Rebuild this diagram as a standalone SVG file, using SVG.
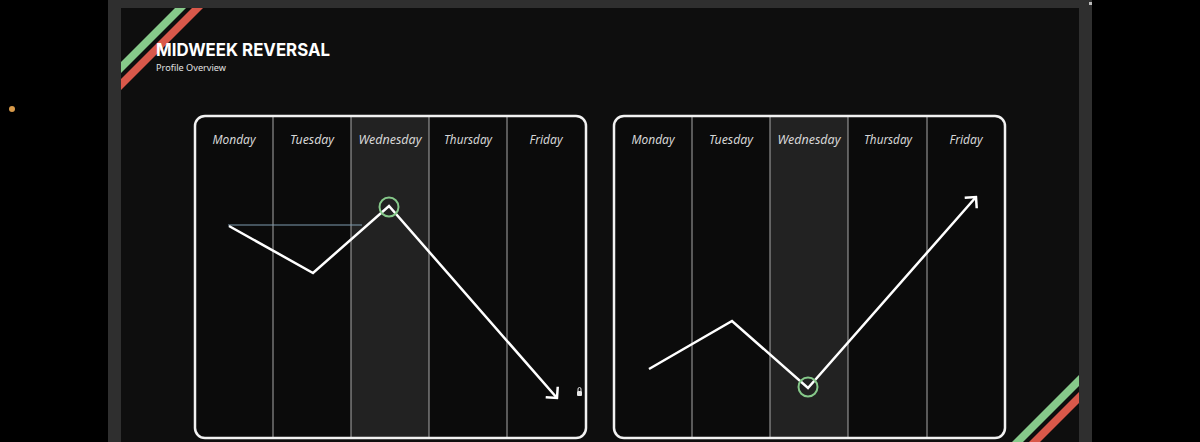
<svg xmlns="http://www.w3.org/2000/svg" width="1200" height="442" viewBox="0 0 1200 442">
  <defs>
    <style>
      .day { font-family: "Noto Sans", "Liberation Sans", sans-serif; font-style: italic; font-size: 12px; fill: #d6d6d6; text-anchor: middle; }
      .col { fill: #0b0b0b; }
      .wed { fill: #222222; }
      .div { stroke: #a8a8a8; stroke-width: 1; }
      .frame { fill: none; stroke: #f2f2f2; stroke-width: 2.5; }
      .line { fill: none; stroke: #ffffff; stroke-width: 2.5; stroke-linejoin: miter; }
      .ring { fill: none; stroke: #86c98a; stroke-width: 2; }
    </style>
    <marker id="arrow" markerUnits="userSpaceOnUse" viewBox="-12 -10 14 20" markerWidth="14" markerHeight="20" refX="0" refY="0" orient="auto">
      <path d="M-8,-8 L0,0 L-8,8" fill="none" stroke="#ffffff" stroke-width="2.5"/>
    </marker>
  </defs>

  <!-- backdrop -->
  <rect x="0" y="0" width="1200" height="442" fill="#000000"/>
  <rect x="108" y="0" width="984" height="442" fill="#2f2f2f"/>
  <rect x="121" y="8" width="958" height="434" fill="#0e0e0e"/>
  <circle cx="12" cy="109" r="3" fill="#d89a4a"/>
  <rect x="1089" y="2" width="3" height="3" fill="#bbbbbb"/>

  <!-- decorative stripes -->
  <g id="stripes">
    <polygon points="121,62 175,8 186,8 121,73" fill="#86c98a"/>
    <polygon points="121,79 192,8 203,8 121,90" fill="#d9584a"/>
    <polygon points="1079,375 1079,386 1023,442 1012,442" fill="#86c98a"/>
    <polygon points="1079,392 1079,403 1040,442 1029,442" fill="#d9584a"/>
  </g>

  <!-- header -->
  <g id="header">
    <text x="156" y="56" font-family="Inter, 'Open Sans', 'Liberation Sans', sans-serif" font-weight="700" font-size="18" fill="#ffffff" textLength="174" lengthAdjust="spacingAndGlyphs">MIDWEEK REVERSAL</text>
    <text x="156" y="71" font-family="'Noto Sans', 'Liberation Sans', sans-serif" font-size="9" fill="#e0e0e0" textLength="70" lengthAdjust="spacingAndGlyphs">Profile Overview</text>
  </g>

  <!-- left panel -->
  <g id="panel-left">
    <rect x="195" y="116" width="391" height="322" rx="10" class="col"/>
    <rect x="351" y="117" width="78" height="320" class="wed"/>
    <line x1="273" y1="117" x2="273" y2="437" class="div"/>
    <line x1="351" y1="117" x2="351" y2="437" class="div"/>
    <line x1="429" y1="117" x2="429" y2="437" class="div"/>
    <line x1="507" y1="117" x2="507" y2="437" class="div"/>
    <rect x="195" y="116" width="391" height="322" rx="10" class="frame"/>
    <text x="234" y="144" class="day" textLength="43" lengthAdjust="spacingAndGlyphs">Monday</text>
    <text x="312" y="144" class="day" textLength="44" lengthAdjust="spacingAndGlyphs">Tuesday</text>
    <text x="390" y="144" class="day" textLength="63" lengthAdjust="spacingAndGlyphs">Wednesday</text>
    <text x="468" y="144" class="day" textLength="48" lengthAdjust="spacingAndGlyphs">Thursday</text>
    <text x="546" y="144" class="day" textLength="33" lengthAdjust="spacingAndGlyphs">Friday</text>
    <g id="lock-icon" fill="#e6e6e6">
      <rect x="577" y="391" width="5" height="5" rx="1"/>
      <path d="M578,391 v-2 a1.5,1.5 0 0 1 3,0 v2" fill="none" stroke="#e6e6e6" stroke-width="1"/>
    </g>
  </g>

  <!-- right panel -->
  <g id="panel-right">
    <rect x="614" y="116" width="391" height="322" rx="10" class="col"/>
    <rect x="770" y="117" width="78" height="320" class="wed"/>
    <line x1="692" y1="117" x2="692" y2="437" class="div"/>
    <line x1="770" y1="117" x2="770" y2="437" class="div"/>
    <line x1="848" y1="117" x2="848" y2="437" class="div"/>
    <line x1="927" y1="117" x2="927" y2="437" class="div"/>
    <rect x="614" y="116" width="391" height="322" rx="10" class="frame"/>
    <text x="653" y="144" class="day" textLength="43" lengthAdjust="spacingAndGlyphs">Monday</text>
    <text x="731" y="144" class="day" textLength="44" lengthAdjust="spacingAndGlyphs">Tuesday</text>
    <text x="809" y="144" class="day" textLength="63" lengthAdjust="spacingAndGlyphs">Wednesday</text>
    <text x="888" y="144" class="day" textLength="48" lengthAdjust="spacingAndGlyphs">Thursday</text>
    <text x="966" y="144" class="day" textLength="33" lengthAdjust="spacingAndGlyphs">Friday</text>
  </g>

  <!-- connectors -->
  <g id="connectors">
    <line x1="228" y1="225" x2="362" y2="225" stroke="#7f9bb0" stroke-width="1.2"/>
    <polyline points="229,226 313,273 389,206 557,398" class="line" marker-end="url(#arrow)"/>
    <polyline points="649,369 732,321 808,388 976,197" class="line" marker-end="url(#arrow)"/>
  </g>

  <g id="marker-left">
    <circle cx="389" cy="207" r="9.5" class="ring"/>
  </g>
  <g id="marker-right">
    <circle cx="808" cy="387" r="9.5" class="ring"/>
  </g>
</svg>
